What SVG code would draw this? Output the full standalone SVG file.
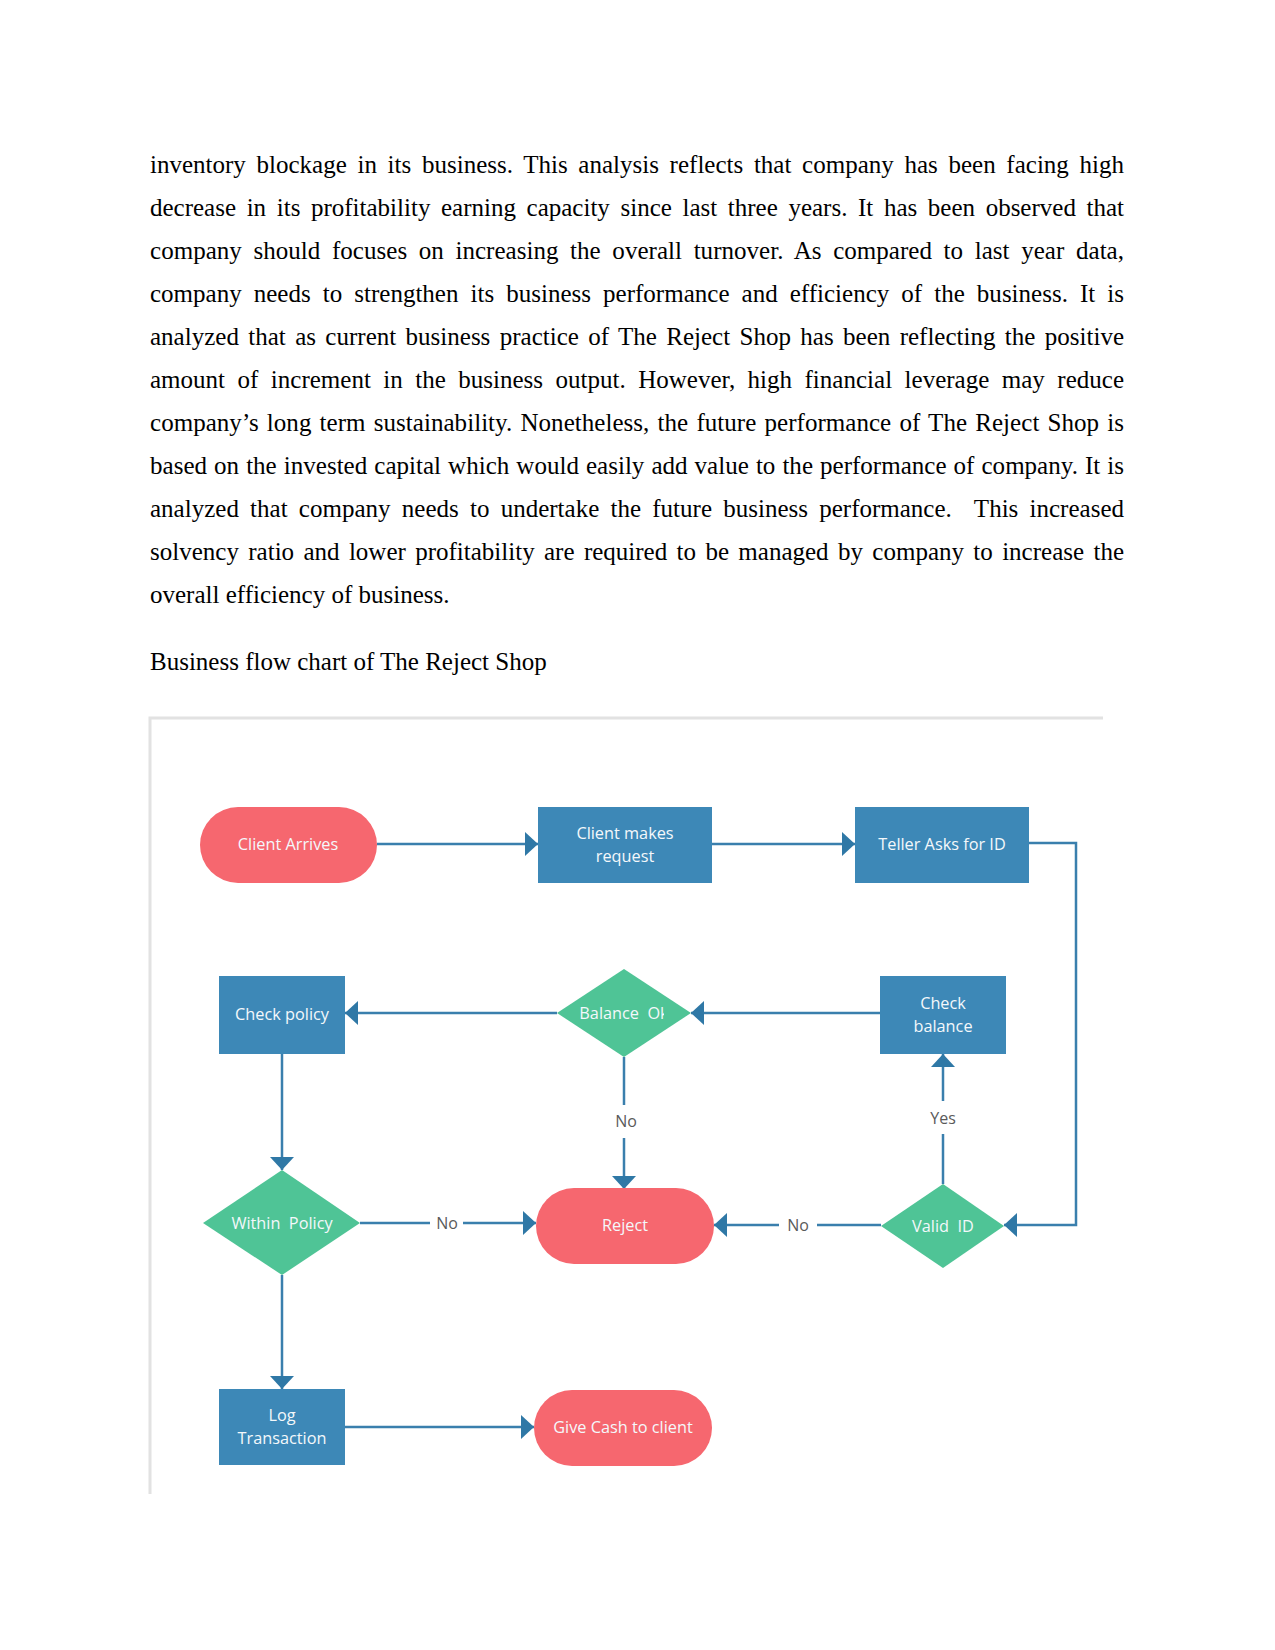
<svg xmlns="http://www.w3.org/2000/svg" width="1275" height="1650" viewBox="0 0 1275 1650">
<style>
.para{font-family:"Liberation Serif","Times New Roman",serif;font-size:25px;fill:#000;white-space:pre}
.lbl{font-family:"Open Sans","Noto Sans",sans-serif;font-size:16.3px;fill:#f4f8fb;text-anchor:middle}
.edge{font-family:"Open Sans","Noto Sans",sans-serif;font-size:16px;fill:#5a5a5a;text-anchor:middle}
.proc{fill:#3d88b7}
.term{fill:#f6676f}
.dec{fill:#4fc496}
.con{fill:none;stroke:#3a7fad;stroke-width:2.5}
</style>
<defs>
<marker id="arr" markerUnits="userSpaceOnUse" viewBox="0 0 13 24" refX="13" refY="12" markerWidth="13" markerHeight="24" orient="auto">
<path d="M0,0 L13,12 L0,24 Z" fill="#2f78a6"/>
</marker>
<clipPath id="clipBal"><rect x="560" y="990" width="104" height="50"/></clipPath>
</defs>
<rect width="1275" height="1650" fill="#fff"/>
<g id="paragraph">
<text class="para" x="150" y="173" word-spacing="4.4" textLength="974" lengthAdjust="spacing">inventory blockage in its business. This analysis reflects that company has been facing high</text>
<text class="para" x="150" y="216" word-spacing="4.36" textLength="974" lengthAdjust="spacing">decrease in its profitability earning capacity since last three years. It has been observed that</text>
<text class="para" x="150" y="259" word-spacing="5.33" textLength="974" lengthAdjust="spacing">company should focuses on increasing the overall turnover. As compared to last year data,</text>
<text class="para" x="150" y="302" word-spacing="5.8" textLength="974" lengthAdjust="spacing">company needs to strengthen its business performance and efficiency of the business. It is</text>
<text class="para" x="150" y="345" word-spacing="3.1" textLength="974" lengthAdjust="spacing">analyzed that as current business practice of The Reject Shop has been reflecting the positive</text>
<text class="para" x="150" y="388" word-spacing="6.18" textLength="974" lengthAdjust="spacing">amount of increment in the business output. However, high financial leverage may reduce</text>
<text class="para" x="150" y="431" word-spacing="1.9" textLength="974" lengthAdjust="spacing">company’s long term sustainability. Nonetheless, the future performance of The Reject Shop is</text>
<text class="para" x="150" y="474" word-spacing="0.78" textLength="974" lengthAdjust="spacing">based on the invested capital which would easily add value to the performance of company. It is</text>
<text class="para" x="150" y="517" word-spacing="4.97" textLength="974" lengthAdjust="spacing">analyzed that company needs to undertake the future business performance.  This increased</text>
<text class="para" x="150" y="560" word-spacing="3.1" textLength="974" lengthAdjust="spacing">solvency ratio and lower profitability are required to be managed by company to increase the</text>
<text class="para" x="150" y="603">overall efficiency of business.</text>
<text class="para" x="150" y="670">Business flow chart of The Reject Shop</text>
</g>
<g id="frame" fill="none" stroke="#e2e2e2" stroke-width="3">
<path d="M150,1494 V718 H1103"/>
</g>
<g id="connectors">
<path class="con" d="M377,844 H538" marker-end="url(#arr)"/>
<path class="con" d="M712,844 H855" marker-end="url(#arr)"/>
<path class="con" d="M1029,843 H1076 V1225 H1004" marker-end="url(#arr)"/>
<path class="con" d="M943,1184 V1134"/>
<path class="con" d="M943,1101 V1054" marker-end="url(#arr)"/>
<text class="edge" x="943" y="1124">Yes</text>
<path class="con" d="M881,1225 H817"/>
<path class="con" d="M779,1225 H714" marker-end="url(#arr)"/>
<text class="edge" x="798" y="1231">No</text>
<path class="con" d="M880,1013 H691" marker-end="url(#arr)"/>
<path class="con" d="M557,1013 H345" marker-end="url(#arr)"/>
<path class="con" d="M624,1057 V1105"/>
<path class="con" d="M624,1138 V1189" marker-end="url(#arr)"/>
<text class="edge" x="626" y="1127">No</text>
<path class="con" d="M282,1054 V1170" marker-end="url(#arr)"/>
<path class="con" d="M360,1223 H430"/>
<path class="con" d="M463,1223 H536" marker-end="url(#arr)"/>
<text class="edge" x="447" y="1229">No</text>
<path class="con" d="M282,1275 V1389" marker-end="url(#arr)"/>
<path class="con" d="M345,1427 H534" marker-end="url(#arr)"/>
</g>
<g id="client-arrives">
<rect class="term" x="200" y="807" width="177" height="76" rx="38"/>
<text class="lbl" x="288" y="850">Client Arrives</text>
</g>
<g id="client-makes-request">
<rect class="proc" x="538" y="807" width="174" height="76"/>
<text class="lbl" x="625" y="839">Client makes</text>
<text class="lbl" x="625" y="862">request</text>
</g>
<g id="teller-asks-for-id">
<rect class="proc" x="855" y="807" width="174" height="76"/>
<text class="lbl" x="942" y="850">Teller Asks for ID</text>
</g>
<g id="check-policy">
<rect class="proc" x="219" y="976" width="126" height="78"/>
<text class="lbl" x="282" y="1020">Check policy</text>
</g>
<g id="balance-ok">
<polygon class="dec" points="624,969 691,1013 624,1057 557,1013"/>
<text class="lbl" x="624" y="1019" clip-path="url(#clipBal)" style="white-space:pre">Balance  Ok</text>
</g>
<g id="check-balance">
<rect class="proc" x="880" y="976" width="126" height="78"/>
<text class="lbl" x="943" y="1009">Check</text>
<text class="lbl" x="943" y="1032">balance</text>
</g>
<g id="within-policy">
<polygon class="dec" points="282,1170 360,1223 282,1275 203,1223"/>
<text class="lbl" x="282" y="1229" style="white-space:pre">Within  Policy</text>
</g>
<g id="reject">
<rect class="term" x="536" y="1188" width="178" height="76" rx="38"/>
<text class="lbl" x="625" y="1231">Reject</text>
</g>
<g id="valid-id">
<polygon class="dec" points="943,1184 1004,1226 943,1268 881,1226"/>
<text class="lbl" x="943" y="1232" style="white-space:pre">Valid  ID</text>
</g>
<g id="log-transaction">
<rect class="proc" x="219" y="1389" width="126" height="76"/>
<text class="lbl" x="282" y="1421">Log</text>
<text class="lbl" x="282" y="1444">Transaction</text>
</g>
<g id="give-cash">
<rect class="term" x="534" y="1390" width="178" height="76" rx="38"/>
<text class="lbl" x="623" y="1433">Give Cash to client</text>
</g>
</svg>
